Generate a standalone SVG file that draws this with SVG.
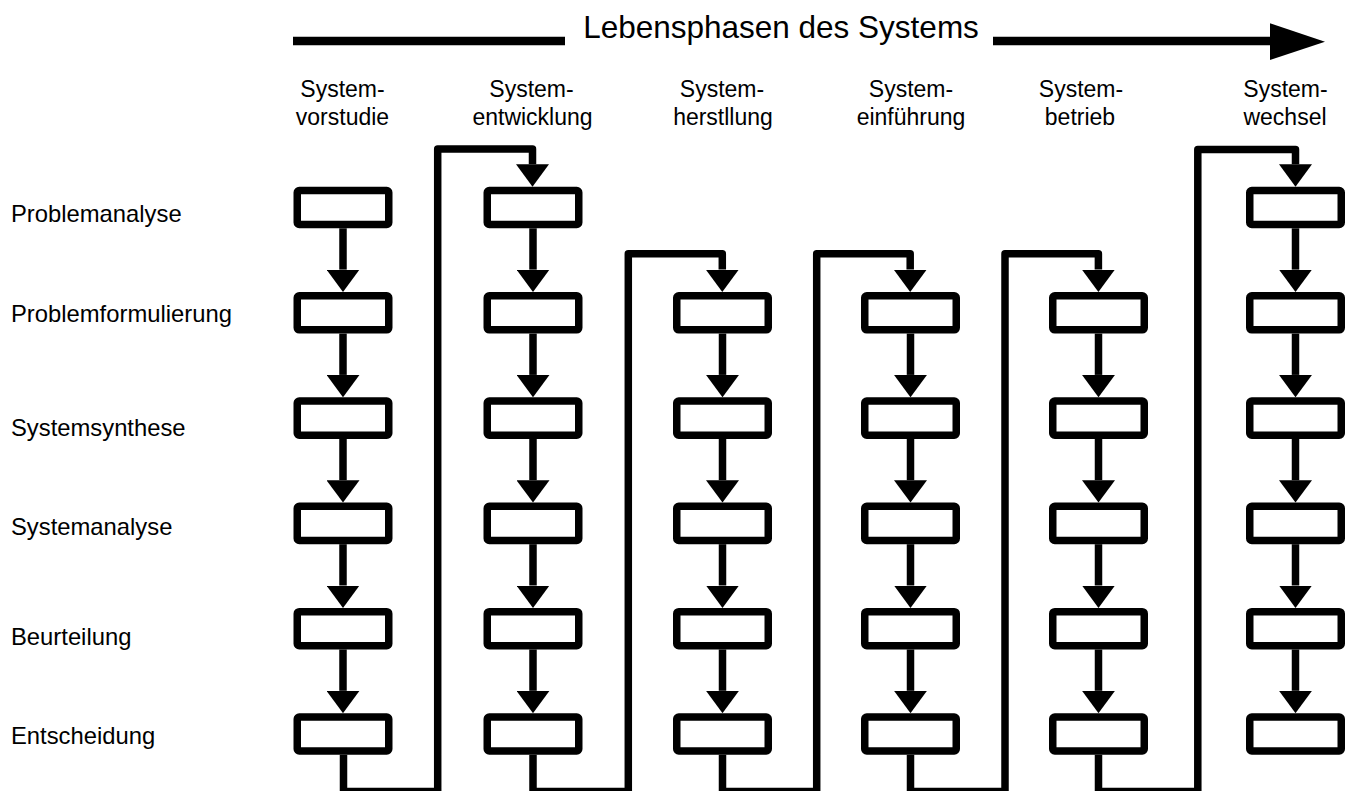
<svg xmlns="http://www.w3.org/2000/svg" width="1347" height="791" viewBox="0 0 1347 791">
<style>
.box{fill:#fff;stroke:#000;stroke-width:7.5;}
.ln{fill:none;stroke:#000;stroke-width:7.5;stroke-linejoin:round;}
.t{font-family:"Liberation Sans",Arial,sans-serif;fill:#000;}
.col{font-size:23px;text-anchor:middle;}
.row{font-size:23.8px;}
</style>
<defs>
<marker id="ah" markerUnits="userSpaceOnUse" viewBox="0 0 22.4 33" markerWidth="22.4" markerHeight="33" refX="0" refY="16.5" orient="auto">
<path d="M0,0 L22.4,16.5 L0,33 Z" fill="#000"/>
</marker>
</defs>
<rect width="1347" height="791" fill="#fff"/>
<g id="title">
<path d="M293,41 H565 M993,41 H1272" stroke="#000" stroke-width="8.5" fill="none"/>
<polygon points="1270,23.3 1325,41.7 1270,60" fill="#000"/>
<text class="t" x="781" y="38" font-size="31.5" text-anchor="middle">Lebensphasen des Systems</text>
</g>
<g id="phase-labels">
<text class="t col" x="342.5" y="96.7">System-</text><text class="t col" x="342.5" y="125">vorstudie</text>
<text class="t col" x="531.5" y="96.7">System-</text><text class="t col" x="532.5" y="125">entwicklung</text>
<text class="t col" x="722" y="96.7">System-</text><text class="t col" x="723" y="125">herstllung</text>
<text class="t col" x="911" y="96.7">System-</text><text class="t col" x="911" y="125">einführung</text>
<text class="t col" x="1081" y="96.7">System-</text><text class="t col" x="1080" y="125">betrieb</text>
<text class="t col" x="1285.5" y="96.7">System-</text><text class="t col" x="1285" y="125">wechsel</text>
</g>
<g id="step-labels">
<text class="t row" x="11" y="221.7">Problemanalyse</text>
<text class="t row" x="11" y="321.7">Problemformulierung</text>
<text class="t row" x="11" y="435.5">Systemsynthese</text>
<text class="t row" x="11" y="535">Systemanalyse</text>
<text class="t row" x="11" y="645">Beurteilung</text>
<text class="t row" x="11" y="744">Entscheidung</text>
</g>
<g id="col1">
<rect class="box" x="297.25" y="190.45" width="91.5" height="34.1" rx="2"/>
<rect class="box" x="297.25" y="295.75" width="91.5" height="34.1" rx="2"/>
<rect class="box" x="297.25" y="401.05" width="91.5" height="34.1" rx="2"/>
<rect class="box" x="297.25" y="506.35" width="91.5" height="34.1" rx="2"/>
<rect class="box" x="297.25" y="611.65" width="91.5" height="34.1" rx="2"/>
<rect class="box" x="297.25" y="716.95" width="91.5" height="34.1" rx="2"/>
</g>
<g id="col2">
<rect class="box" x="487.25" y="190.45" width="91.5" height="34.1" rx="2"/>
<rect class="box" x="487.25" y="295.75" width="91.5" height="34.1" rx="2"/>
<rect class="box" x="487.25" y="401.05" width="91.5" height="34.1" rx="2"/>
<rect class="box" x="487.25" y="506.35" width="91.5" height="34.1" rx="2"/>
<rect class="box" x="487.25" y="611.65" width="91.5" height="34.1" rx="2"/>
<rect class="box" x="487.25" y="716.95" width="91.5" height="34.1" rx="2"/>
</g>
<g id="col3">
<rect class="box" x="676.75" y="295.75" width="91.5" height="34.1" rx="2"/>
<rect class="box" x="676.75" y="401.05" width="91.5" height="34.1" rx="2"/>
<rect class="box" x="676.75" y="506.35" width="91.5" height="34.1" rx="2"/>
<rect class="box" x="676.75" y="611.65" width="91.5" height="34.1" rx="2"/>
<rect class="box" x="676.75" y="716.95" width="91.5" height="34.1" rx="2"/>
</g>
<g id="col4">
<rect class="box" x="864.75" y="295.75" width="91.5" height="34.1" rx="2"/>
<rect class="box" x="864.75" y="401.05" width="91.5" height="34.1" rx="2"/>
<rect class="box" x="864.75" y="506.35" width="91.5" height="34.1" rx="2"/>
<rect class="box" x="864.75" y="611.65" width="91.5" height="34.1" rx="2"/>
<rect class="box" x="864.75" y="716.95" width="91.5" height="34.1" rx="2"/>
</g>
<g id="col5">
<rect class="box" x="1052.75" y="295.75" width="91.5" height="34.1" rx="2"/>
<rect class="box" x="1052.75" y="401.05" width="91.5" height="34.1" rx="2"/>
<rect class="box" x="1052.75" y="506.35" width="91.5" height="34.1" rx="2"/>
<rect class="box" x="1052.75" y="611.65" width="91.5" height="34.1" rx="2"/>
<rect class="box" x="1052.75" y="716.95" width="91.5" height="34.1" rx="2"/>
</g>
<g id="col6">
<rect class="box" x="1249.75" y="190.45" width="91.5" height="34.1" rx="2"/>
<rect class="box" x="1249.75" y="295.75" width="91.5" height="34.1" rx="2"/>
<rect class="box" x="1249.75" y="401.05" width="91.5" height="34.1" rx="2"/>
<rect class="box" x="1249.75" y="506.35" width="91.5" height="34.1" rx="2"/>
<rect class="box" x="1249.75" y="611.65" width="91.5" height="34.1" rx="2"/>
<rect class="box" x="1249.75" y="716.95" width="91.5" height="34.1" rx="2"/>
</g>
<g id="connectors">
<path class="ln" marker-end="url(#ah)" d="M343,228.3 V269.6"/>
<path class="ln" marker-end="url(#ah)" d="M343,333.6 V374.9"/>
<path class="ln" marker-end="url(#ah)" d="M343,438.9 V480.2"/>
<path class="ln" marker-end="url(#ah)" d="M343,544.2 V585.5"/>
<path class="ln" marker-end="url(#ah)" d="M343,649.5 V690.8"/>
<path class="ln" marker-end="url(#ah)" d="M533,228.3 V269.6"/>
<path class="ln" marker-end="url(#ah)" d="M533,333.6 V374.9"/>
<path class="ln" marker-end="url(#ah)" d="M533,438.9 V480.2"/>
<path class="ln" marker-end="url(#ah)" d="M533,544.2 V585.5"/>
<path class="ln" marker-end="url(#ah)" d="M533,649.5 V690.8"/>
<path class="ln" marker-end="url(#ah)" d="M722.5,333.6 V374.9"/>
<path class="ln" marker-end="url(#ah)" d="M722.5,438.9 V480.2"/>
<path class="ln" marker-end="url(#ah)" d="M722.5,544.2 V585.5"/>
<path class="ln" marker-end="url(#ah)" d="M722.5,649.5 V690.8"/>
<path class="ln" marker-end="url(#ah)" d="M910.5,333.6 V374.9"/>
<path class="ln" marker-end="url(#ah)" d="M910.5,438.9 V480.2"/>
<path class="ln" marker-end="url(#ah)" d="M910.5,544.2 V585.5"/>
<path class="ln" marker-end="url(#ah)" d="M910.5,649.5 V690.8"/>
<path class="ln" marker-end="url(#ah)" d="M1098.5,333.6 V374.9"/>
<path class="ln" marker-end="url(#ah)" d="M1098.5,438.9 V480.2"/>
<path class="ln" marker-end="url(#ah)" d="M1098.5,544.2 V585.5"/>
<path class="ln" marker-end="url(#ah)" d="M1098.5,649.5 V690.8"/>
<path class="ln" marker-end="url(#ah)" d="M1295.5,228.3 V269.6"/>
<path class="ln" marker-end="url(#ah)" d="M1295.5,333.6 V374.9"/>
<path class="ln" marker-end="url(#ah)" d="M1295.5,438.9 V480.2"/>
<path class="ln" marker-end="url(#ah)" d="M1295.5,544.2 V585.5"/>
<path class="ln" marker-end="url(#ah)" d="M1295.5,649.5 V690.8"/>
<path class="ln" marker-end="url(#ah)" d="M343.5,754.8 V791.5 H437.7 V149 H532.5 V164.3"/>
<path class="ln" marker-end="url(#ah)" d="M533,754.8 V791.5 H628.3 V253.7 H722.3 V269.6"/>
<path class="ln" marker-end="url(#ah)" d="M722.5,754.8 V791.5 H816.7 V253.7 H910.2 V269.6"/>
<path class="ln" marker-end="url(#ah)" d="M910.5,754.8 V791.5 H1005 V253.7 H1098.4 V269.6"/>
<path class="ln" marker-end="url(#ah)" d="M1098.5,754.8 V791.5 H1197.8 V149.5 H1295.5 V164.3"/>
</g>
</svg>
